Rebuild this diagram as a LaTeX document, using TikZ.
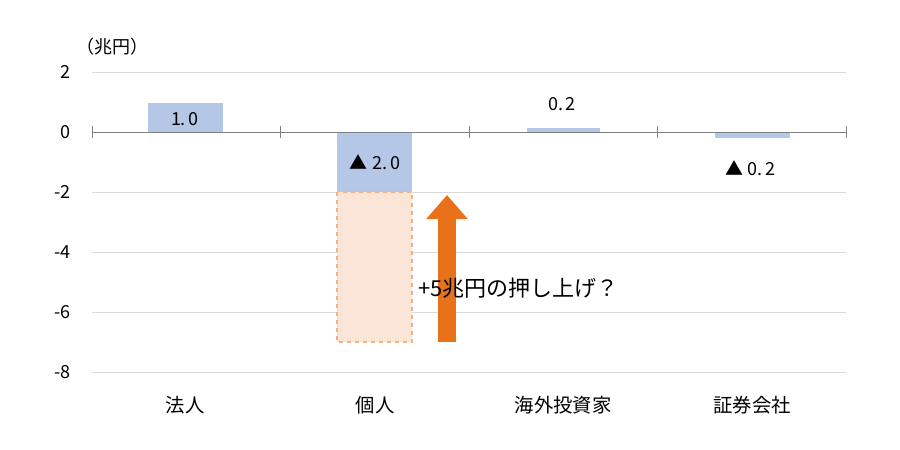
\documentclass[tikz,border=0pt]{standalone}
\usepackage{fontspec}
\setmainfont{Noto Sans CJK JP}
\usetikzlibrary{arrows.meta}
\definecolor{barblue}{RGB}{180,199,231}
\definecolor{gridgray}{RGB}{217,217,217}
\definecolor{pushorange}{RGB}{232,113,26}
\definecolor{dashorange}{RGB}{244,177,131}
\definecolor{peach}{RGB}{251,229,214}
\tikzset{
  lbl/.style={inner sep=0.75pt, font=\fontsize{13.5}{15}\selectfont},
  catlbl/.style={inner sep=0.75pt, font=\fontsize{14.5}{17}\selectfont},
  ylbl/.style={lbl, anchor=east},
  bar/.style={fill=barblue, draw=none},
}
\begin{document}
\begin{tikzpicture}[x=0.75pt,y=0.75pt,yscale=-1]
            \useasboundingbox (0,0) rectangle (900,450);
            % grid lines and axis labels
            \foreach \v/\yy in {2/72,0/132,-2/192,-4/252,-6/312,-8/372}{
              \draw[gridgray, line width=0.75] (92,\yy) -- (846,\yy);
              \node[ylbl] (y\yy) at (72,\yy) {\v};
            }
            \node[lbl] (unit) at (112,47) {（兆円）};
            % bars
            \fill[bar] (148,103) rectangle (223,132);
            \fill[bar] (337,132) rectangle (412,192);
            \fill[bar] (527,128) rectangle (600,132);
            \fill[bar] (715,132) rectangle (790,138);
            % hypothetical push
            \draw[dashorange, fill=peach, dashed, line width=1.2] (337,192) rectangle (412,342);
            % zero axis with ticks
            \draw[gray, line width=0.75] (92,132) -- (846,132);
            \foreach \xx in {92,280,469,657,846}
              \draw[gray, line width=0.75] (\xx,126) -- (\xx,138);
            % arrow
            \coordinate (arrFrom) at (447,342);
            \coordinate (arrTo) at (447,195);
            \draw[pushorange, line width=13.5, -{Triangle[length=18pt, width=30pt]}] (arrFrom) -- (arrTo);
            % Text Node
            \node[lbl] (vHojin) at (185,119) {1.\,0};
            \node[lbl] (vKojin) at (375,162) {▲ 2.\,0};
            \node[lbl] (vKaigai) at (562,104) {0.\,2};
            \node[lbl] (vShoken) at (750,168) {▲ 0.\,2};
            \node[catlbl, anchor=west, font=\fontsize{16.5}{19}\selectfont] (push) at (417,288) {+5兆円の押し上げ？};
            % categories
            \node[catlbl] (cHojin) at (185,405) {法人};
            \node[catlbl] (cKojin) at (375,405) {個人};
            \node[catlbl] (cKaigai) at (563,405) {海外投資家};
            \node[catlbl] (cShoken) at (752,405) {証券会社};
\end{tikzpicture}
\end{document}
